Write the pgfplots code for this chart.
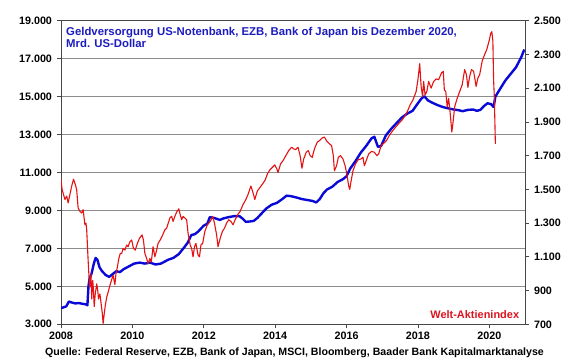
\documentclass[border=0pt]{standalone}
\usepackage{pgfplots}
\pgfplotsset{compat=1.18}
\usepackage{fontspec}
\setmainfont{Liberation Sans}
\definecolor{bl}{RGB}{10,10,215}
\definecolor{rd}{RGB}{228,18,18}
\definecolor{tblue}{RGB}{28,28,190}
\definecolor{tred}{RGB}{220,20,30}
\definecolor{grd}{RGB}{140,140,140}
\definecolor{axc}{RGB}{70,70,70}
\pgfplotstableread{
x y
2008.00 3850
2008.08 3900
2008.15 3950
2008.22 4200
2008.30 4150
2008.40 4100
2008.50 4120
2008.60 4080
2008.70 4050
2008.74 4000
2008.77 5000
2008.80 5400
2008.86 5700
2008.92 6200
2008.97 6500
2009.02 6400
2009.08 6000
2009.15 5800
2009.25 5600
2009.35 5500
2009.45 5650
2009.55 5800
2009.65 5750
2009.75 5900
2009.85 6000
2009.95 6100
2010.05 6200
2010.20 6250
2010.35 6200
2010.50 6250
2010.65 6150
2010.80 6200
2010.90 6300
2011.00 6400
2011.15 6500
2011.30 6700
2011.45 7050
2011.55 7300
2011.65 7700
2011.75 7750
2011.85 7900
2012.00 8200
2012.10 8300
2012.17 8650
2012.30 8600
2012.45 8500
2012.55 8580
2012.70 8650
2012.85 8700
2013.00 8700
2013.10 8550
2013.18 8400
2013.30 8420
2013.40 8450
2013.50 8600
2013.60 8800
2013.75 9100
2013.90 9300
2014.05 9400
2014.20 9600
2014.32 9780
2014.45 9750
2014.60 9680
2014.75 9600
2014.90 9550
2015.05 9500
2015.15 9420
2015.25 9600
2015.35 9900
2015.45 10100
2015.60 10250
2015.75 10500
2015.90 10650
2016.00 10800
2016.10 11200
2016.25 11600
2016.40 12050
2016.55 12400
2016.70 12800
2016.78 12880
2016.88 12350
2016.97 12400
2017.10 12950
2017.25 13300
2017.40 13600
2017.55 13900
2017.70 14100
2017.85 14250
2018.00 14650
2018.10 14900
2018.18 15020
2018.28 14800
2018.40 14680
2018.55 14550
2018.70 14450
2018.85 14380
2019.00 14320
2019.15 14280
2019.25 14230
2019.40 14300
2019.55 14320
2019.65 14250
2019.75 14300
2019.85 14500
2019.95 14650
2020.05 14600
2020.12 14450
2020.17 15000
2020.30 15400
2020.45 15850
2020.60 16200
2020.75 16550
2020.90 17100
2020.98 17480
}\blue
\pgfplotstableread{
x y
2008.00 1560
2008.03 1500
2008.07 1470
2008.11 1440
2008.16 1460
2008.20 1420
2008.26 1480
2008.30 1520
2008.35 1560
2008.40 1530
2008.44 1496
2008.48 1390
2008.53 1370
2008.58 1360
2008.62 1380
2008.67 1290
2008.70 1300
2008.72 1260
2008.76 1080
2008.79 960
2008.81 920
2008.84 1000
2008.86 850
2008.89 960
2008.91 900
2008.93 805
2008.96 880
2009.00 940
2009.03 900
2009.05 850
2009.09 880
2009.12 830
2009.16 760
2009.18 705
2009.21 760
2009.24 810
2009.28 860
2009.32 890
2009.37 930
2009.42 965
2009.46 990
2009.51 935
2009.54 1000
2009.58 1040
2009.62 1090
2009.66 1120
2009.70 1120
2009.74 1150
2009.79 1140
2009.84 1170
2009.88 1160
2009.93 1190
2009.98 1200
2010.03 1150
2010.08 1140
2010.14 1180
2010.20 1210
2010.27 1230
2010.31 1200
2010.35 1120
2010.40 1090
2010.44 1060
2010.49 1090
2010.53 1070
2010.58 1160
2010.63 1100
2010.68 1140
2010.72 1180
2010.78 1200
2010.85 1230
2010.91 1260
2010.96 1270
2011.05 1330
2011.10 1340
2011.14 1310
2011.19 1340
2011.24 1365
2011.30 1385
2011.34 1350
2011.38 1320
2011.42 1340
2011.47 1330
2011.52 1320
2011.56 1240
2011.62 1170
2011.66 1150
2011.70 1100
2011.74 1160
2011.78 1180
2011.84 1110
2011.88 1100
2011.92 1170
2011.97 1180
2012.03 1250
2012.10 1290
2012.18 1310
2012.25 1340
2012.30 1300
2012.36 1230
2012.40 1160
2012.46 1210
2012.52 1250
2012.58 1270
2012.64 1300
2012.70 1320
2012.76 1310
2012.82 1290
2012.88 1320
2012.95 1350
2013.02 1370
2013.10 1410
2013.18 1440
2013.24 1470
2013.32 1520
2013.38 1480
2013.43 1440
2013.50 1490
2013.57 1510
2013.64 1530
2013.72 1555
2013.78 1590
2013.85 1615
2013.92 1630
2013.99 1645
2014.05 1620
2014.08 1600
2014.15 1650
2014.22 1670
2014.30 1700
2014.38 1730
2014.46 1750
2014.52 1740
2014.57 1735
2014.64 1750
2014.70 1700
2014.75 1625
2014.80 1680
2014.87 1720
2014.93 1730
2014.98 1700
2015.04 1690
2015.10 1740
2015.18 1780
2015.25 1790
2015.32 1805
2015.38 1810
2015.45 1785
2015.52 1770
2015.58 1760
2015.63 1700
2015.66 1610
2015.72 1640
2015.77 1690
2015.83 1700
2015.90 1680
2015.96 1640
2016.01 1590
2016.06 1520
2016.09 1500
2016.12 1540
2016.18 1610
2016.25 1650
2016.32 1675
2016.40 1680
2016.46 1690
2016.50 1640
2016.55 1670
2016.62 1710
2016.70 1725
2016.78 1720
2016.85 1700
2016.90 1710
2016.97 1760
2017.05 1775
2017.12 1790
2017.20 1820
2017.30 1850
2017.38 1870
2017.46 1890
2017.55 1910
2017.62 1930
2017.70 1960
2017.78 2000
2017.86 2030
2017.95 2080
2018.00 2150
2018.05 2245
2018.09 2110
2018.13 2050
2018.16 2140
2018.20 2060
2018.25 2080
2018.30 2140
2018.37 2100
2018.44 2140
2018.51 2155
2018.58 2150
2018.66 2190
2018.71 2200
2018.74 2090
2018.78 2080
2018.82 1990
2018.86 2040
2018.90 1960
2018.95 1840
2018.98 1890
2019.03 1990
2019.10 2040
2019.17 2080
2019.24 2120
2019.31 2210
2019.36 2180
2019.40 2105
2019.45 2170
2019.50 2210
2019.56 2200
2019.60 2150
2019.63 2110
2019.68 2160
2019.73 2180
2019.80 2260
2019.87 2300
2019.93 2330
2020.00 2385
2020.04 2425
2020.07 2435
2020.10 2380
2020.12 2150
2020.14 2050
2020.17 1770
}\red
\pgfplotsset{
  every axis/.append style={
    scale only axis, width=464bp, height=303.6bp,
    at={(0,0)}, anchor=south west,
    xmin=2008, xmax=2021,
    scaled ticks=false,
    tick align=outside, major tick length=4bp,
    tick style={axc, line width=0.8bp},
    tick label style={font=\bfseries\fontsize{10.8}{12}\selectfont, text=black},
    /pgf/number format/.cd, 1000 sep={.}, assume math mode=true,
  }
}
\begin{document}
\begin{tikzpicture}
\useasboundingbox (-61bp,-34.7bp) rectangle (519bp,324.3bp);
\begin{axis}[
  ymin=3000, ymax=19000,
  xtick={2008,2010,...,2020}, ytick={3000,5000,...,19000},
  xtick pos=lower, ytick pos=left,
  xticklabel style={/pgf/number format/1000 sep={}},
  yticklabel style={xshift=-1.5bp},
  ymajorgrids, grid style={grd, line width=0.9bp},
  axis line style={axc, line width=0.8bp},
]
\addplot[bl, line width=2.4bp, line join=round] table {\blue};
\end{axis}
\begin{axis}[
  ymin=700, ymax=2500,
  ytick={700,900,...,2500},
  axis y line*=right, axis x line=none,
  y axis line style={-, axc, line width=0.8bp},
  yticklabel style={xshift=1.5bp},
]
\addplot[rd, line width=1.1bp, line join=round] table {\red};
\end{axis}
\begin{scope}[every node/.style={inner sep=0pt}]
\node[anchor=base west, text=tblue, font=\bfseries\fontsize{11.4}{13}\selectfont] at (5bp,289.1bp) {Geldversorgung US-Notenbank, EZB, Bank of Japan bis Dezember 2020,};
\node[anchor=base west, text=tblue, font=\bfseries\fontsize{11.4}{13}\selectfont] at (5bp,277.1bp) {Mrd. US-Dollar};
\node[anchor=base east, text=tred, font=\bfseries\fontsize{11}{13}\selectfont] at (458.3bp,5.8bp) {Welt-Aktienindex};
\node[anchor=base west, text=black, font=\bfseries\fontsize{10.65}{13}\selectfont] at (-16bp,-31.2bp) {Quelle: Federal Reserve, EZB, Bank of Japan, MSCI, Bloomberg, Baader Bank Kapitalmarktanalyse};
\end{scope}
\end{tikzpicture}
\end{document}
